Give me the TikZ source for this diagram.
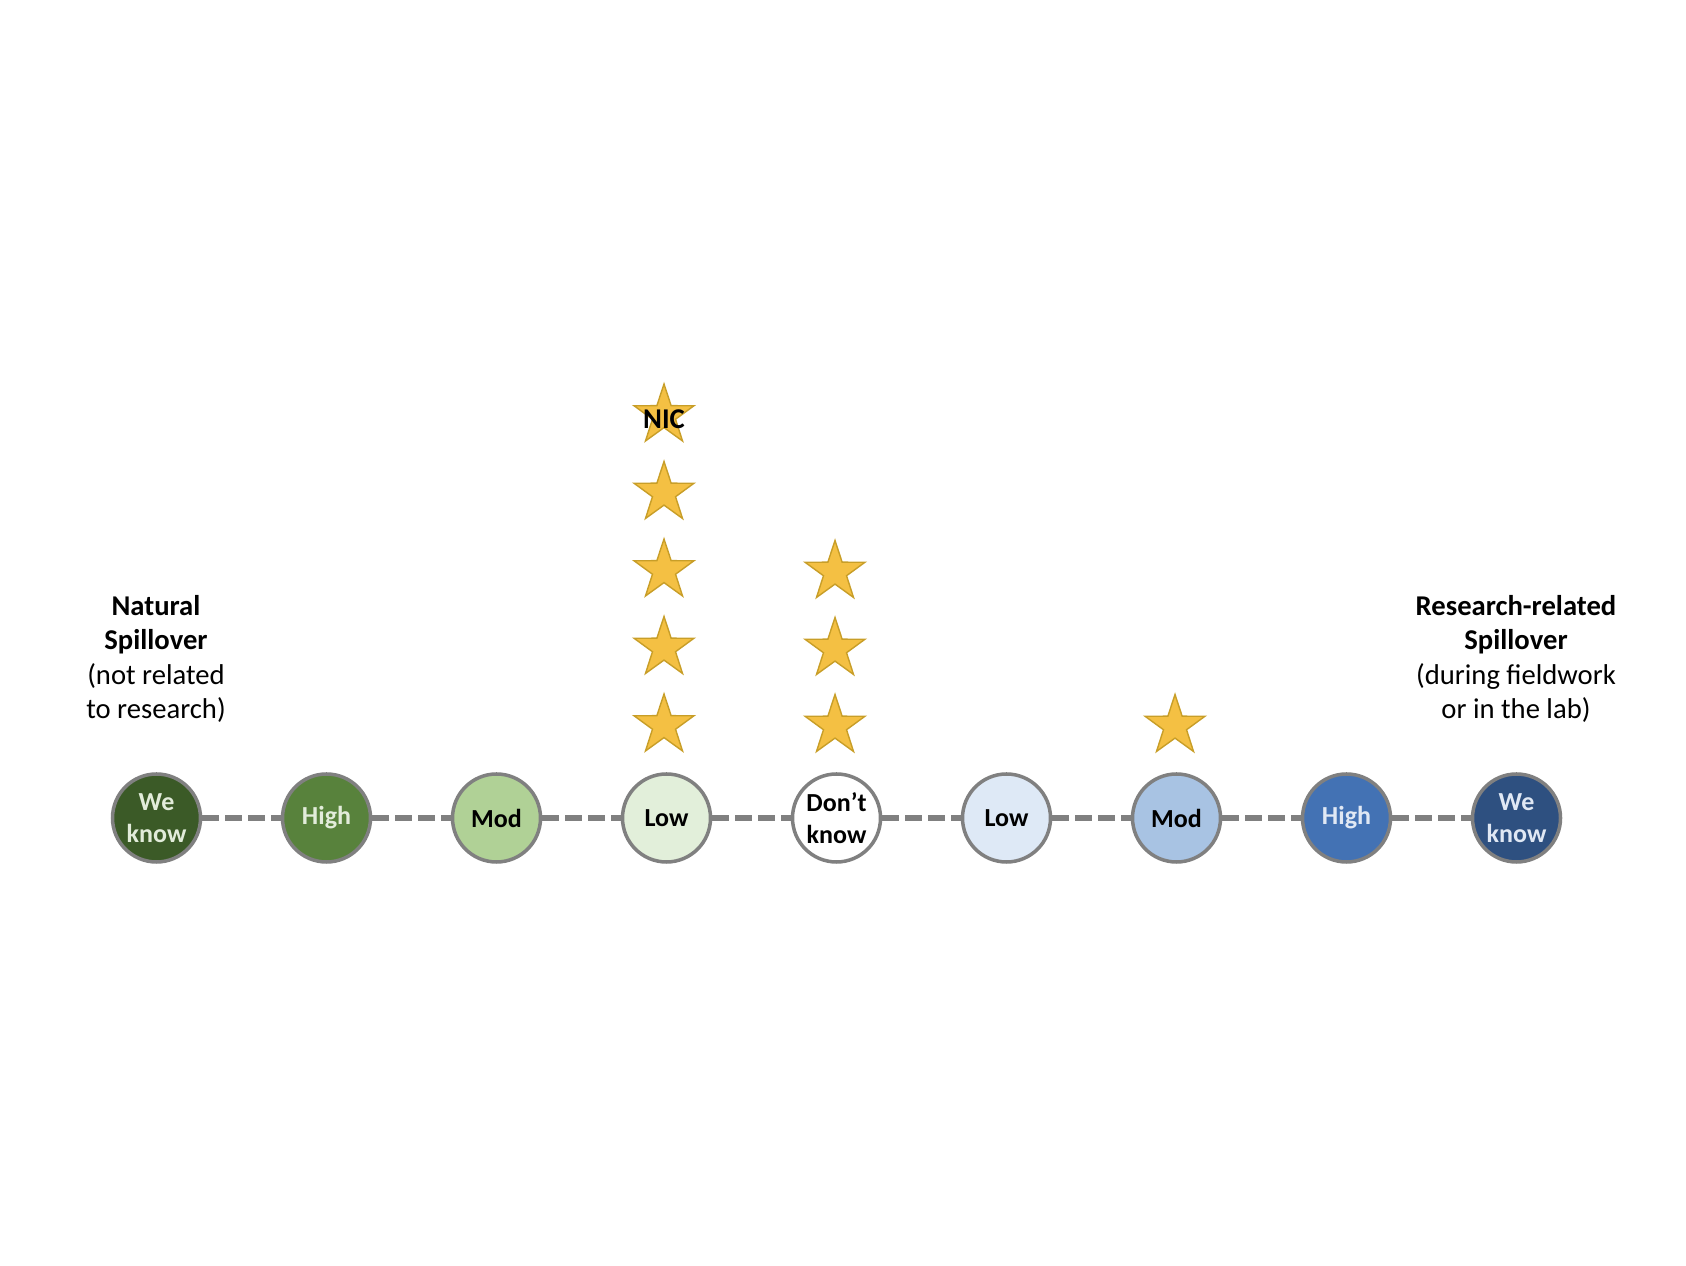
\documentclass[tikz,border=0pt]{standalone}
\usepackage{fontspec}
\setmainfont{Carlito}
\usepackage{tikz}
\usetikzlibrary{shapes.geometric}

\definecolor{greenA}{RGB}{59,90,39}
\definecolor{greenB}{RGB}{88,130,60}
\definecolor{greenC}{RGB}{176,209,150}
\definecolor{greenD}{RGB}{226,239,218}
\definecolor{greenTxt}{RGB}{226,236,218}
\definecolor{blueD}{RGB}{222,233,246}
\definecolor{blueC}{RGB}{168,195,227}
\definecolor{blueB}{RGB}{67,114,180}
\definecolor{blueA}{RGB}{46,80,128}
\definecolor{blueTxt}{RGB}{224,232,244}
\definecolor{ringgray}{RGB}{128,128,128}
\definecolor{stargold}{RGB}{244,192,67}
\definecolor{staredge}{RGB}{200,158,40}

\begin{document}
\begin{tikzpicture}[
    level/.style={circle, draw=ringgray, line width=2pt, minimum size=1.76cm, inner sep=0pt,
        align=center, font=\fontsize{14.8}{18}\selectfont\bfseries},
    link/.style={draw=ringgray, line width=3pt, dash pattern=on 9.5pt off 3.6pt},
    vote/.style={star, star points=5, star point ratio=2.6, fill=stargold, draw=staredge,
        line width=0.8pt, minimum size=1.26cm, inner sep=0pt},
    side/.style={align=center, font=\fontsize{16.3}{19.6}\selectfont}
]
    \useasboundingbox (0,0) rectangle (33.72,25.32);
    % Scale of levels
    \node[level, fill=greenA, text=greenTxt] (gknow) at (3.13,8.96) {We\\know};
    \node[level, fill=greenB, text=greenTxt] (ghigh) at (6.53,8.96) {High};
    \node[level, fill=greenC] (gmod) at (9.93,8.96) {Mod};
    \node[level, fill=greenD] (glow) at (13.33,8.96) {Low};
    \node[level, fill=white] (dunno) at (16.73,8.96) {Don’t\\know};
    \node[level, fill=blueD] (blow) at (20.13,8.96) {Low};
    \node[level, fill=blueC] (bmod) at (23.53,8.96) {Mod};
    \node[level, fill=blueB, text=blueTxt] (bhigh) at (26.93,8.96) {High};
    \node[level, fill=blueA, text=blueTxt] (bknow) at (30.33,8.96) {We\\know};
    % Dashed links
    \draw[link] (gknow) -- (ghigh);
    \draw[link] (ghigh) -- (gmod);
    \draw[link] (gmod) -- (glow);
    \draw[link] (glow) -- (dunno);
    \draw[link] (dunno) -- (blow);
    \draw[link] (blow) -- (bmod);
    \draw[link] (bmod) -- (bhigh);
    \draw[link] (bhigh) -- (bknow);
    % Stars above Low
    \node[vote] (lowA) at (13.28,10.81) {};
    \node[vote] (lowB) at (13.28,12.36) {};
    \node[vote] (lowC) at (13.28,13.91) {};
    \node[vote] (lowD) at (13.28,15.46) {};
    \node[vote] (lowE) at (13.28,17.01) {};
    \node[font=\fontsize{16.3}{19}\selectfont\bfseries] (nic) at (13.28,16.94) {NIC};
    % Stars above Don't know
    \node[vote] (dunnoA) at (16.70,10.80) {};
    \node[vote] (dunnoB) at (16.70,12.34) {};
    \node[vote] (dunnoC) at (16.70,13.88) {};
    % Star above Mod
    \node[vote] (modA) at (23.50,10.80) {};
    % Side labels
    \node[side] (natural) at (3.12,12.14)
        {\textbf{Natural}\\\textbf{Spillover}\\(not related\\to research)};
    \node[side] (research) at (30.32,12.14)
        {\textbf{Research-related}\\\textbf{Spillover}\\(during fieldwork\\or in the lab)};
\end{tikzpicture}
\end{document}
